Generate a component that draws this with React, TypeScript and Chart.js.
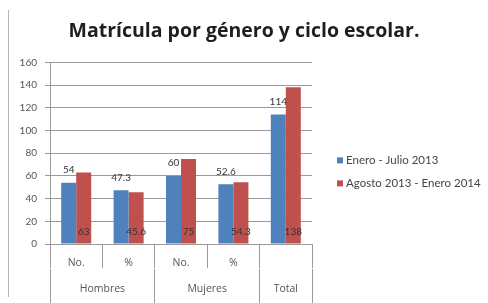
import { useEffect, useRef } from 'react';
import { Chart, registerables } from 'chart.js';

Chart.register(...registerables);

const chartTitle = 'Matrícula por género y ciclo escolar.';
const subLabels = ['No.', '%', 'No.', '%', ''];
const groupLabels = ['Hombres', 'Mujeres', 'Total'];
const groupSpans = [2, 2, 1];
const seriesNames = ['Enero - Julio 2013', 'Agosto 2013 - Enero 2014'];
const eneroJulio2013 = [54, 47.3, 60, 52.6, 114];
const agosto2013Enero2014 = [63, 45.6, 75, 54.3, 138];
const yMin = 0;
const yMax = 160;
const yStep = 20;

const BLUE = '#4F81BD';
const RED = '#C0504D';
const GRID = '#9a9a9a';
const TEXT = '#555555';
const FONT = 'Lato';

// group axis ticks (category-index space): edges and centers
type GroupTick = { value: number; text: string; edge: boolean };
const groupTicks: GroupTick[] = (() => {
  const out: GroupTick[] = [];
  let start = -0.5;
  out.push({ value: start, text: '', edge: true });
  groupLabels.forEach((g, i) => {
    const span = groupSpans[i];
    out.push({ value: start + span / 2, text: g, edge: false });
    start += span;
    out.push({ value: start, text: '', edge: true });
  });
  return out;
})();

const valueLabels = {
  id: 'valueLabels',
  afterDatasetsDraw(chart: any) {
    const ctx = chart.ctx;
    ctx.save();
    ctx.font = `10px ${FONT}`;
    ctx.fillStyle = '#333333';
    ctx.textAlign = 'center';
    ctx.textBaseline = 'middle';
    chart.data.datasets.forEach((ds: any, di: number) => {
      const meta = chart.getDatasetMeta(di);
      meta.data.forEach((bar: any, i: number) => {
        const p = bar.getProps(['x', 'y', 'base'], true);
        const ty = di === 0 ? p.y - 13 : p.base - 12;
        ctx.fillText(String(ds.data[i]), p.x, ty);
      });
    });
    ctx.restore();
  },
};

const sideLegend = {
  id: 'sideLegend',
  afterDraw(chart: any) {
    const { ctx, chartArea } = chart;
    ctx.save();
    ctx.font = `11.5px ${FONT}`;
    ctx.textBaseline = 'middle';
    ctx.textAlign = 'left';
    chart.data.datasets.forEach((ds: any, i: number) => {
      const x = chartArea.right + 25;
      const y = chartArea.top + 98 + i * 23;
      ctx.fillStyle = ds.backgroundColor;
      ctx.fillRect(x, y - 3, 6, 6);
      ctx.fillStyle = '#454545';
      ctx.fillText(ds.label, x + 9, y);
    });
    ctx.restore();
  },
};

export default function App() {
  const ref = useRef<HTMLCanvasElement>(null);
  useEffect(() => {
    if (!ref.current) return;
    const chart = new Chart(ref.current, {
      type: 'bar',
      data: {
        labels: subLabels,
        datasets: [
          {
            label: seriesNames[0],
            data: eneroJulio2013,
            backgroundColor: BLUE,
            categoryPercentage: 0.573,
            barPercentage: 1,
          },
          {
            label: seriesNames[1],
            data: agosto2013Enero2014,
            backgroundColor: RED,
            categoryPercentage: 0.573,
            barPercentage: 1,
          },
        ],
      },
      options: {
        responsive: false,
        animation: false,
        devicePixelRatio: 1,
        layout: { padding: 0 },
        plugins: {
          legend: { display: false },
          tooltip: { enabled: false },
          title: {
            display: true,
            text: chartTitle,
            color: '#1e1e1e',
            font: { family: 'Open Sans', size: 19.5, weight: 'bold' },
            padding: { top: 20, bottom: 19 },
          },
        },
        scales: {
          x: {
            type: 'category',
            position: 'bottom',
            offset: true,
            grid: {
              offset: true,
              drawOnChartArea: false,
              drawTicks: true,
              tickLength: 24,
              color: GRID,
            },
            border: { display: true, color: GRID },
            ticks: {
              color: TEXT,
              font: { family: 'Open Sans', size: 10.5 },
              padding: -11,
              maxRotation: 0,
              autoSkip: false,
            },
            afterFit: (s: any) => {
              s.height = 25;
            },
          },
          x2: {
            type: 'linear',
            position: 'bottom',
            min: -0.5,
            max: 4.5,
            offset: false,
            afterBuildTicks: (s: any) => {
              s.ticks = groupTicks.map((t) => ({ value: t.value }));
            },
            grid: {
              offset: false,
              drawOnChartArea: false,
              drawTicks: true,
              tickLength: 34,
              color: (c: any) => (groupTicks[c.index] && groupTicks[c.index].edge ? GRID : 'rgba(0,0,0,0)'),
            },
            border: { display: false },
            ticks: {
              color: TEXT,
              font: { family: 'Open Sans', size: 10.5 },
              padding: -20,
              maxRotation: 0,
              autoSkip: false,
              callback: (_v: any, i: number) => (groupTicks[i] ? groupTicks[i].text : ''),
            },
            afterFit: (s: any) => {
              s.height = 34;
            },
          },
          y: {
            min: yMin,
            max: yMax,
            ticks: {
              stepSize: yStep,
              color: TEXT,
              font: { family: FONT, size: 10 },
              padding: 8,
            },
            grid: { color: GRID, tickLength: 5 },
            border: { display: true, color: GRID },
            afterFit: (s: any) => {
              s.width = 50;
            },
          },
          yRight: {
            type: 'linear',
            position: 'right',
            display: true,
            grid: { display: false },
            border: { display: false },
            ticks: { display: false },
            afterFit: (s: any) => {
              s.width = 176;
            },
          },
        },
      },
      plugins: [valueLabels, sideLegend],
    } as any);
    return () => chart.destroy();
  }, []);

  return (
    <div style={{ position: 'absolute', left: 0, top: 0, width: 488, height: 303, background: '#fff' }}>
      <div
        style={{
          position: 'absolute',
          left: 8,
          top: 10,
          width: 0,
          height: 287,
          borderLeft: '1px solid #b4b4b4',
        }}
      />
      <canvas ref={ref} width={488} height={303} style={{ position: 'absolute', left: 0, top: 0 }} />
    </div>
  );
}
